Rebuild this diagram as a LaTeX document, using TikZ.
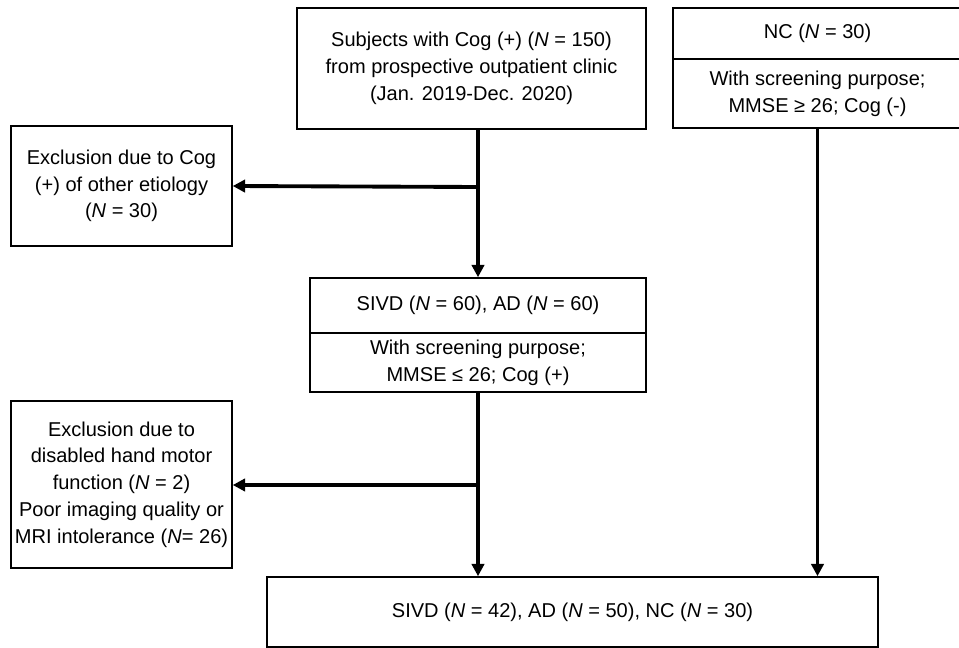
\documentclass[tikz,border=0pt]{standalone}
\usepackage{fontspec}
\setmainfont{Liberation Sans}
\usepackage{tikz}
\usetikzlibrary{arrows.meta,positioning,calc}

\begin{document}
\begin{tikzpicture}[
  x=0.02cm, y=-0.02cm,
  box/.style={rectangle, draw, line width=0.9pt, align=center, inner sep=2pt},
  arrow/.style={-{Triangle[length=7pt, width=7pt]}, line width=2.2pt},
  every node/.style={font=\fontsize{11.4}{15.2}\selectfont}
]
\useasboundingbox (0,0) rectangle (959,648);

% Top row
\node[box, minimum width=6.98cm, minimum height=2.42cm] (subj) at (471.5, 68.5)
  {Subjects with Cog (+) (\textit{N} = 150)\\from prospective outpatient clinic\\(Jan. 2019-Dec. 2020)};
\node[box, minimum width=5.78cm, minimum height=1.02cm] (nchead) at (817.5, 33.5)
  {NC (\textit{N} = 30)};
\node[box, minimum width=5.78cm, minimum height=1.38cm] (ncbody) at (817.5, 93.5)
  {With screening purpose;\\MMSE ≥ 26; Cog (-)};

% Middle
\node[box, minimum width=4.42cm, minimum height=2.4cm] (excl1) at (121.5, 186)
  {Exclusion due to Cog\\(+) of other etiology\\(\textit{N} = 30)};
\node[box, minimum width=6.72cm, minimum height=1.1cm] (sivdhead) at (478, 305.5)
  {SIVD (\textit{N} = 60), AD (\textit{N} = 60)};
\node[box, minimum width=6.72cm, minimum height=1.18cm] (sivdbody) at (478, 362.5)
  {With screening purpose;\\MMSE ≤ 26; Cog (+)};
\node[box, minimum width=4.42cm, minimum height=3.34cm] (excl2) at (121.5, 484.5)
  {Exclusion due to\\disabled hand motor\\function (\textit{N} = 2)\\Poor imaging quality or\\MRI intolerance (\textit{N}= 26)};

% Final
\node[box, minimum width=12.22cm, minimum height=1.4cm] (final) at (572.5, 612)
  {SIVD (\textit{N} = 42), AD (\textit{N} = 50), NC (\textit{N} = 30)};

% Branch points
\coordinate (split1) at (478, 187);
\coordinate (split2) at (478, 485);

% Arrows
\draw[arrow] (subj.south -| sivdhead.north) -- (sivdhead.north);
\draw[arrow] (split1) -- (excl1.east);
\draw[arrow] (sivdbody.south) -- (sivdbody.south |- final.north);
\draw[arrow] (split2) -- (split2 -| excl2.east);
\draw[arrow] (ncbody.south) -- (ncbody.south |- final.north);

\end{tikzpicture}
\end{document}
